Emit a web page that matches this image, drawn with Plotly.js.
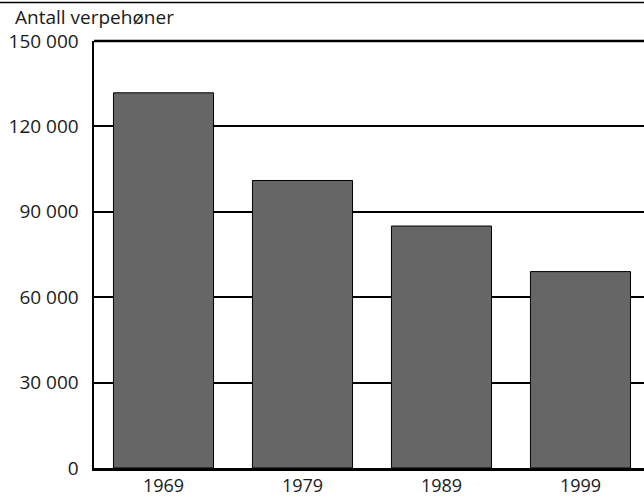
<!DOCTYPE html>
<html>
<head>
<meta charset="utf-8">
<script src="https://cdn.plot.ly/plotly-3.0.1.min.js"></script>
<style>html,body{margin:0;padding:0;background:#fff}#chart{width:644px;height:497px}</style>
</head>
<body>
<div id="chart"></div>
<script>
const years = ['1969', '1979', '1989', '1999'];
const hens = [131800, 101000, 85000, 69000];
const yTickVals = [0, 30000, 60000, 90000, 120000, 150000];
const yTickText = ['0', '30 000', '60 000', '90 000', '120 000', '150 000'];
const yTitle = 'Antall verpehøner';

const font = 'Open Sans, Noto Sans, sans-serif';
const txt = '#1a1a1a';
const fs = 19;

const trace = {
  type: 'bar',
  x: years,
  y: hens,
  marker: {color: '#666666', line: {color: '#000000', width: 1}},
  hoverinfo: 'none'
};

const layout = {
  width: 644,
  height: 497,
  margin: {l: 94, r: 0, t: 41, b: 29, pad: 0},
  paper_bgcolor: '#ffffff',
  plot_bgcolor: '#ffffff',
  showlegend: false,
  bargap: 0.28,
  font: {family: font, size: fs, color: txt},
  xaxis: {
    type: 'category',
    range: [-0.5, 3.457],
    showline: true,
    linecolor: '#000000',
    linewidth: 2.5,
    showgrid: false,
    ticks: '',
    tickfont: {family: font, size: 18, color: txt},
    ticklabelstandoff: 0,
    zeroline: false
  },
  yaxis: {
    range: [0, 150000],
    tickvals: yTickVals,
    ticktext: yTickText,
    showline: true,
    linecolor: '#000000',
    linewidth: 2.5,
    showgrid: true,
    gridcolor: '#000000',
    gridwidth: 2,
    zeroline: false,
    ticks: '',
    ticklabelstandoff: 9,
    tickfont: {family: font, size: fs, color: txt}
  },
  annotations: [{
    text: yTitle,
    xref: 'paper', yref: 'paper',
    x: -0.147, y: 1.02,
    xanchor: 'left', yanchor: 'bottom',
    showarrow: false,
    font: {family: font, size: fs, color: txt}
  }],
  shapes: [{
    type: 'line', xref: 'paper', yref: 'paper',
    x0: -0.2, x1: 1, y0: 1.09, y1: 1.09,
    line: {color: '#000000', width: 1.5}
  }, {
    type: 'line', xref: 'paper', yref: 'paper', layer: 'below',
    x0: 0, x1: 1, y0: 1, y1: 1,
    line: {color: '#000000', width: 2.5}
  }]
};

Plotly.newPlot('chart', [trace], layout, {displayModeBar: false, staticPlot: true});
</script>
</body>
</html>
